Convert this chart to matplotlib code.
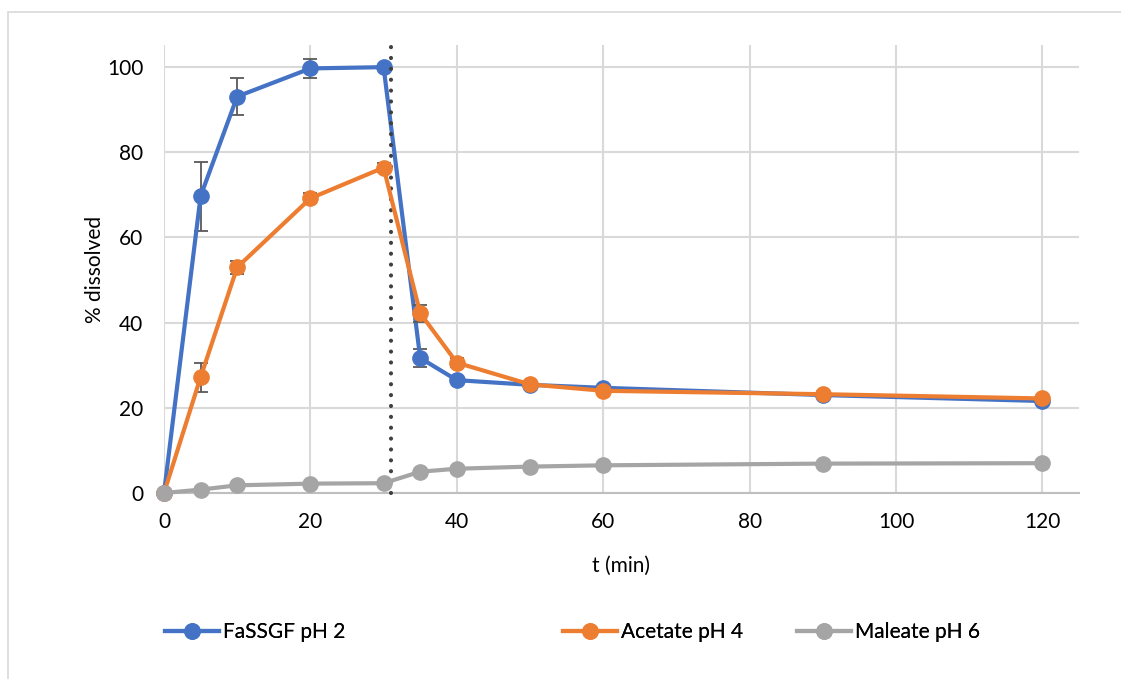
import matplotlib
matplotlib.use("Agg")
from matplotlib import pyplot as plt
from matplotlib.patches import Rectangle
from matplotlib.lines import Line2D

plt.rcParams['font.family'] = ['Lato', 'DejaVu Sans']

# sampling times (min)
t = [0, 5, 10, 20, 30, 35, 40, 50, 60, 90, 120]

# % dissolved and SD for each medium
fassgf = [0, 69.7, 93.1, 99.7, 100.0, 31.7, 26.5, 25.4, 24.7, 23.0, 21.6]
fassgf_err = [0, 8.1, 4.4, 2.3, 0.6, 2.0, 0.6, 0, 0, 0, 0]
acetate = [0, 27.2, 53.0, 69.2, 76.4, 42.2, 30.6, 25.5, 24.0, 23.2, 22.2]
acetate_err = [0, 3.4, 1.5, 1.2, 1.0, 2.0, 1.0, 0, 0, 0, 0]
maleate = [0, 0.8, 1.8, 2.2, 2.3, 5.0, 5.7, 6.2, 6.5, 6.9, 7.0]

labels = ["FaSSGF pH 2", "Acetate pH 4", "Maleate pH 6"]
colors = ["#4472C4", "#ED7D31", "#A5A5A5"]
switch_time = 31

fig = plt.figure(figsize=(11.21, 6.79), dpi=100)
ax = fig.add_axes([164 / 1121, 1 - 493 / 679, (1079 - 164) / 1121, (493 - 45) / 679])

# outer chart frame
fig.patches.append(Rectangle((8 / 1121, -0.1), 1.2, 0.1 + (679 - 12) / 679,
                             transform=fig.transFigure, fill=False,
                             edgecolor="#d9d9d9", linewidth=1.2))

style = dict(linewidth=3, marker="o", markersize=11, elinewidth=1.3,
             ecolor="#595959", capsize=5, capthick=1.3)
for y, err, c, z in [(fassgf, fassgf_err, colors[0], 3), (acetate, acetate_err, colors[1], 4)]:
    line, caps, bars = ax.errorbar(t, y, yerr=err, color=c, zorder=z, **style)
    line.set_clip_on(False)
ax.plot(t, maleate, color=colors[2], linewidth=3, marker="o",
        markersize=11, zorder=5, clip_on=False)

ax.axvline(switch_time, ymin=0, ymax=1, color="#404040", linewidth=3,
           linestyle=(0, (0.01, 2.6)), dash_capstyle="round", zorder=3.5, clip_on=False)

ax.set_xlim(0, 125)
ax.set_ylim(0, 105.2)
ax.set_xticks(range(0, 121, 20))
ax.set_yticks(range(0, 101, 20))
ax.grid(True, color="#d9d9d9", linewidth=1.5)
ax.set_axisbelow(True)
for s in ["top", "right", "left"]:
    ax.spines[s].set_visible(False)
ax.spines["bottom"].set_color("#bfbfbf")
ax.spines["bottom"].set_linewidth(1.5)
ax.tick_params(axis="both", length=0, labelsize=15, colors="black")
ax.tick_params(axis="x", pad=14)
ax.tick_params(axis="y", pad=15)

ax.set_xlabel("t (min)", fontsize=15, labelpad=17)
ax.set_ylabel("% dissolved", fontsize=15, labelpad=1)

# legend entries placed at their own positions under the plot
legend_x = [165, 563, 797]
for lab, c, x in zip(labels, colors, legend_x):
    h = Line2D([], [], color=c, linewidth=3, marker="o", markersize=11)
    fig.add_artist(fig.legend([h], [lab], loc="center left",
                              bbox_to_anchor=(x / 1121, 1 - 632 / 679),
                              frameon=False, fontsize=15, handlelength=2.6,
                              handletextpad=0.2, borderpad=0, borderaxespad=0))

plt.savefig("out.png", dpi=100)
